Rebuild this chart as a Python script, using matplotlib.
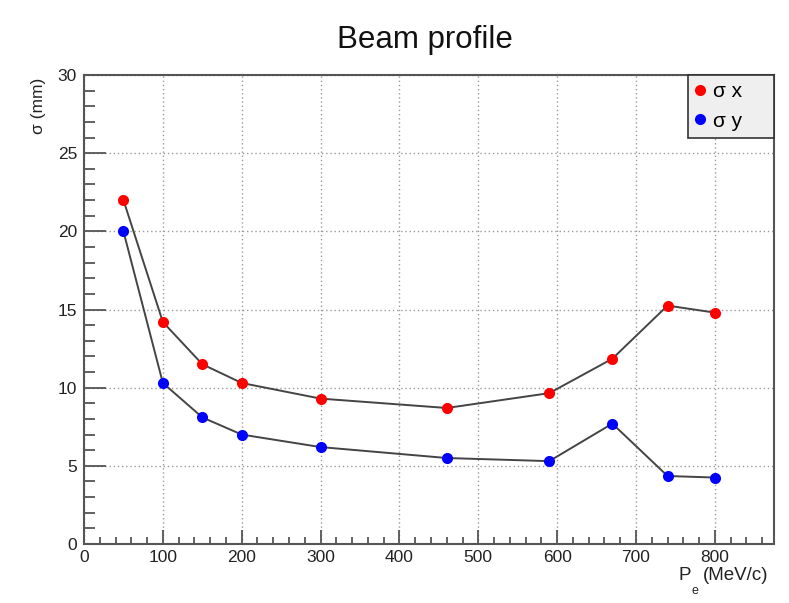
import numpy as np
import matplotlib
matplotlib.use("Agg")
import matplotlib.pyplot as plt
from matplotlib.lines import Line2D
from matplotlib.ticker import MultipleLocator

plt.rcParams['font.family'] = ['Liberation Sans', 'DejaVu Sans']

# beam momentum (MeV/c) and measured widths (mm)
p_e = [50, 100, 150, 200, 300, 460, 590, 670, 740, 800]
sigma_x = [22.0, 14.2, 11.5, 10.3, 9.3, 8.7, 9.65, 11.85, 15.25, 14.8]
sigma_y = [20.0, 10.3, 8.1, 7.0, 6.2, 5.5, 5.3, 7.7, 4.35, 4.25]

W, H = 789, 603
fig = plt.figure(figsize=(W / 100, H / 100), dpi=100)
ax = fig.add_axes([84 / W, 1 - 544 / H, 690 / W, 469 / H])

line_c = '#444444'
ax.plot(p_e, sigma_x, color=line_c, lw=1.4, zorder=3)
ax.plot(p_e, sigma_y, color=line_c, lw=1.4, zorder=3)
ax.plot(p_e, sigma_x, 'o', color='#ff0000', ms=8, mec='none', zorder=4)
ax.plot(p_e, sigma_y, 'o', color='#0000ff', ms=8, mec='none', zorder=4)

ax.set_xlim(0, 875)
ax.set_ylim(0, 30)
ax.xaxis.set_major_locator(MultipleLocator(100))
ax.xaxis.set_minor_locator(MultipleLocator(20))
ax.yaxis.set_major_locator(MultipleLocator(5))
ax.yaxis.set_minor_locator(MultipleLocator(1))

frame_c = '#555555'
for s in ax.spines.values():
    s.set_color(frame_c)
    s.set_linewidth(1.5)
ax.tick_params(axis='both', which='both', direction='in', color=frame_c,
               width=1.3, labelsize=12.5, labelcolor='#222222')
ax.tick_params(axis='x', which='major', length=10, pad=4)
ax.tick_params(axis='x', which='minor', length=5)
ax.tick_params(axis='y', which='major', length=16, pad=5)
ax.tick_params(axis='y', which='minor', length=8)

ax.grid(True, which='major', color='#9a9a9a', lw=1, linestyle=(0, (1, 2)))
ax.set_axisbelow(True)

# title and axis labels
fig.text(425 / W, 1 - 48 / H, 'Beam profile', fontsize=22.5, ha='center',
         va='baseline', color='#111111')
fig.text(38 / W, 1 - 78 / H, 'σ (mm)', fontsize=12.5, rotation=90,
         ha='center', va='top', color='#222222')
fig.text(679 / W, 1 - 580 / H, 'P', fontsize=13.5, ha='left', va='baseline',
         color='#222222')
fig.text(691 / W, 1 - 594 / H, 'e', fontsize=9, ha='left', va='baseline',
         color='#222222')
fig.text(768 / W, 1 - 580 / H, '(MeV/c)', fontsize=13.5, ha='right',
         va='baseline', color='#222222')

handles = [Line2D([], [], ls='none', marker='o', color='#ff0000', ms=8, mec='none'),
           Line2D([], [], ls='none', marker='o', color='#0000ff', ms=8, mec='none')]
leg = ax.legend(handles, ['σ x', 'σ y'], loc='upper left',
                bbox_to_anchor=(0.875, 0.876, 0.125, 0.124), mode='expand',
                borderaxespad=0, fancybox=False, framealpha=1,
                facecolor='#efefef', edgecolor='#333333', fontsize=15,
                handlelength=0.5, handletextpad=0.35, labelspacing=0.5,
                borderpad=0.35)
leg.get_frame().set_linewidth(1.2)

fig.savefig('out.png', dpi=100)
